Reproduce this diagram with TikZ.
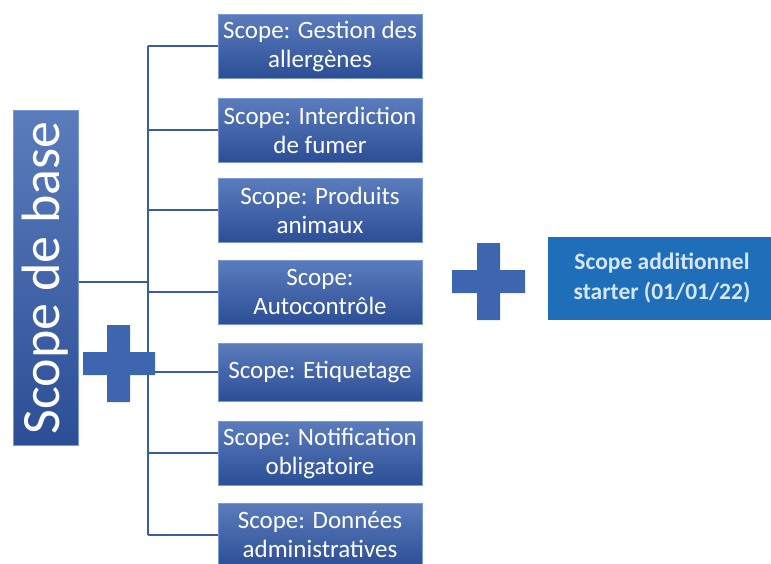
\documentclass[tikz,border=0pt]{standalone}
\usepackage{fontspec}
\setmainfont{Carlito}
\usetikzlibrary{positioning}
\definecolor{scopeblue}{RGB}{62,101,176}
\definecolor{scopedark}{RGB}{44,78,150}
\definecolor{scopelite}{RGB}{120,155,215}
\definecolor{starterblue}{RGB}{30,110,185}
\definecolor{startertext}{RGB}{215,230,245}
\definecolor{linkblue}{RGB}{58,92,160}
\tikzset{
	scopebox/.style={draw=scopelite, line width=1pt, top color=scopeblue!85!white, bottom color=scopedark,
		text=white, align=center, font=\fontsize{25}{29}\selectfont, inner sep=0pt,
		minimum width=204pt, minimum height=64pt},
	link/.style={linkblue, line width=2.2pt},
	plusfill/.style={fill=scopeblue}
}
\begin{document}
\begin{tikzpicture}[x=1pt, y=-1pt]
	\useasboundingbox (0,0) rectangle (771,563);
	
	\node[scopebox, rotate=90, minimum width=335pt, minimum height=65pt, font=\fontsize{54}{56}\selectfont] (base) at (45.5,278) {Scope de base};
	
	\draw
	(320,46) node[scopebox](allerg){Scope: Gestion des\\allergènes}
	(320,130) node[scopebox](fumer){Scope: Interdiction\\de fumer}
	(320,210) node[scopebox](animaux){Scope: Produits\\animaux}
	(320,292) node[scopebox](autoctrl){Scope:\\Autocontrôle}
	(320,372) node[scopebox, minimum height=58pt](etiq){Scope: Etiquetage}
	(320,453) node[scopebox](notif){Scope: Notification\\obligatoire}
	(320,535) node[scopebox](admin){Scope: Données\\administratives};
	
	\node[fill=starterblue, text=startertext, align=center, font=\bfseries\fontsize{23.5}{30}\selectfont,
		minimum width=228pt, minimum height=83pt] (starter) at (662,278) {Scope additionnel\\starter (01/01/22)};
	
	\coordinate (bustop) at (148,46);
	\coordinate (busbot) at (148,535);
	\draw[link] (bustop) -- (busbot);
	\draw[link] (base.south |- 0,282) -- (bustop |- 0,282);
	\foreach \n in {allerg,fumer,animaux,autoctrl,etiq,notif,admin}
		\draw[link] (\n.west) -- (\n.west -| bustop);
	
	% plus signs
	\fill[plusfill] (83,352) rectangle (155,375) (107,325) rectangle (130,402);
	\fill[plusfill] (452,270) rectangle (525,293) (477,243) rectangle (500,320);
	
\end{tikzpicture}
\end{document}
